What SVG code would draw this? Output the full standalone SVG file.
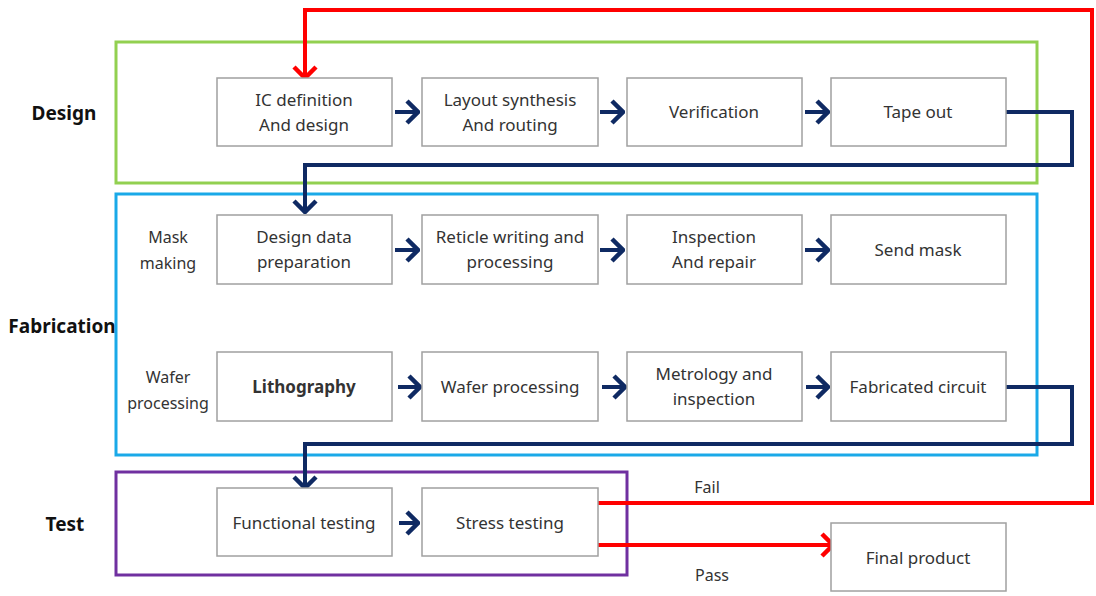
<svg xmlns="http://www.w3.org/2000/svg" width="1096" height="596" viewBox="0 0 1096 596">
<style>
.box{fill:#fff;stroke:#a0a0a0;stroke-width:1.5}
.t{font-family:"Noto Sans","Liberation Sans",sans-serif;font-size:17px;fill:#333;text-anchor:middle}
.lab{font-family:"Noto Sans","Liberation Sans",sans-serif;font-size:19px;font-weight:bold;fill:#111;text-anchor:middle}
.sm{font-family:"Noto Sans","Liberation Sans",sans-serif;font-size:16px;fill:#333;text-anchor:middle}
.nv{fill:none;stroke:#0f2a63;stroke-width:4}
.rd{fill:none;stroke:#ff0000;stroke-width:4}
.grp{fill:none;stroke-width:3}
</style>
<defs>
<marker id="an" markerUnits="userSpaceOnUse" viewBox="-16 -14 18 28" refX="0" refY="0" markerWidth="18" markerHeight="28" orient="auto">
<path d="M-11,-11 L0,0 L-11,11" fill="none" stroke="#0f2a63" stroke-width="4.5"/>
</marker>
<marker id="ar" markerUnits="userSpaceOnUse" viewBox="-16 -14 18 28" refX="0" refY="0" markerWidth="18" markerHeight="28" orient="auto">
<path d="M-11,-11 L0,0 L-11,11" fill="none" stroke="#ff0000" stroke-width="4.5"/>
</marker>
</defs>
<rect width="1096" height="596" fill="#fff"/>

<g id="groups">
<rect id="design-group" class="grp" x="116" y="42" width="921" height="141" stroke="#92d050"/>
<rect id="fab-group" class="grp" x="116" y="194" width="921" height="261" stroke="#1aa9e8"/>
<rect id="test-group" class="grp" x="116" y="472" width="511" height="103" stroke="#7030a0"/>
</g>

<g id="labels">
<text class="lab" x="64" y="120">Design</text>
<text class="lab" x="62" y="333">Fabrication</text>
<text class="lab" x="65" y="531">Test</text>
<text class="sm" x="168" y="243">Mask</text>
<text class="sm" x="168" y="269">making</text>
<text class="sm" x="168" y="383">Wafer</text>
<text class="sm" x="168" y="409">processing</text>
<text class="sm" x="707" y="493">Fail</text>
<text class="sm" x="712" y="581">Pass</text>
</g>

<g id="connectors">
<path class="rd" d="M598,503 H1092 V10 H305 V78" marker-end="url(#ar)"/>
<path class="rd" d="M598,545 H833" marker-end="url(#ar)"/>
<path class="nv" d="M1006,112 H1072 V165 H305 V212" marker-end="url(#an)"/>
<path class="nv" d="M1006,387 H1072 V444 H305 V488" marker-end="url(#an)"/>
<path class="nv" d="M395,112 H418" marker-end="url(#an)"/>
<path class="nv" d="M600,112 H623" marker-end="url(#an)"/>
<path class="nv" d="M805,112 H828" marker-end="url(#an)"/>
<path class="nv" d="M395,250 H418" marker-end="url(#an)"/>
<path class="nv" d="M600,250 H623" marker-end="url(#an)"/>
<path class="nv" d="M805,250 H828" marker-end="url(#an)"/>
<path class="nv" d="M398,387 H420" marker-end="url(#an)"/>
<path class="nv" d="M602,387 H625" marker-end="url(#an)"/>
<path class="nv" d="M806,387 H828" marker-end="url(#an)"/>
<path class="nv" d="M399,523 H418" marker-end="url(#an)"/>
</g>

<g id="n-ic"><rect class="box" x="217" y="78" width="175" height="68"/><text class="t" x="304" y="106">IC definition</text><text class="t" x="304" y="131">And design</text></g>
<g id="n-layout"><rect class="box" x="422" y="78" width="176" height="68"/><text class="t" x="510" y="106">Layout synthesis</text><text class="t" x="510" y="131">And routing</text></g>
<g id="n-verif"><rect class="box" x="627" y="78" width="175" height="68"/><text class="t" x="714" y="118">Verification</text></g>
<g id="n-tape"><rect class="box" x="831" y="78" width="175" height="68"/><text class="t" x="918" y="118">Tape out</text></g>

<g id="n-ddp"><rect class="box" x="217" y="215" width="175" height="69"/><text class="t" x="304" y="243">Design data</text><text class="t" x="304" y="268">preparation</text></g>
<g id="n-reticle"><rect class="box" x="422" y="215" width="176" height="69"/><text class="t" x="510" y="243">Reticle writing and</text><text class="t" x="510" y="268">processing</text></g>
<g id="n-insp"><rect class="box" x="627" y="215" width="175" height="69"/><text class="t" x="714" y="243">Inspection</text><text class="t" x="714" y="268">And repair</text></g>
<g id="n-send"><rect class="box" x="831" y="215" width="175" height="69"/><text class="t" x="918" y="256">Send mask</text></g>

<g id="n-litho"><rect class="box" x="217" y="352" width="175" height="69"/><text class="t" x="304" y="393" font-weight="bold" fill="#111">Lithography</text></g>
<g id="n-wafer"><rect class="box" x="422" y="352" width="176" height="69"/><text class="t" x="510" y="393">Wafer processing</text></g>
<g id="n-metro"><rect class="box" x="627" y="352" width="175" height="69"/><text class="t" x="714" y="380">Metrology and</text><text class="t" x="714" y="405">inspection</text></g>
<g id="n-fab"><rect class="box" x="831" y="352" width="175" height="69"/><text class="t" x="918" y="393">Fabricated circuit</text></g>

<g id="n-func"><rect class="box" x="217" y="488" width="175" height="68"/><text class="t" x="304" y="529">Functional testing</text></g>
<g id="n-stress"><rect class="box" x="422" y="488" width="176" height="68"/><text class="t" x="510" y="529">Stress testing</text></g>
<g id="n-final"><rect class="box" x="831" y="523" width="175" height="68"/><text class="t" x="918" y="564">Final product</text></g>
</svg>
